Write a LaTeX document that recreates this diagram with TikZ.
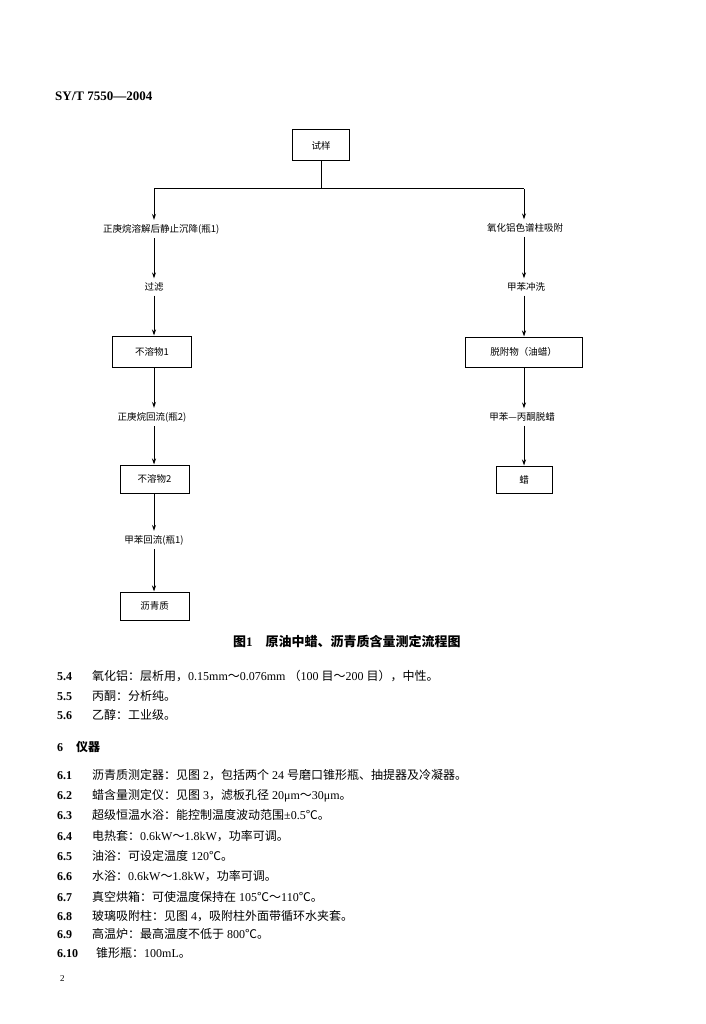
\documentclass[tikz,border=0pt]{standalone}
\usepackage{fontspec}
\setmainfont{Liberation Serif}
\newfontfamily\cjk{Noto Sans CJK SC}
\usetikzlibrary{arrows.meta}
\newcommand\C[1]{{\cjk #1}}
\newcommand\CB[1]{{\cjk\bfseries #1}}
\begin{document}
\begin{tikzpicture}[x=1pt,y=-1pt,
  box/.style={draw, line width=1pt, font=\cjk\fontsize{9.5pt}{11pt}\selectfont, inner sep=0pt},
  lbl/.style={font=\cjk\fontsize{9.5pt}{11pt}\selectfont, inner sep=4pt},
  arr/.style={line width=1pt, -{Stealth[length=6pt,width=4pt]}},
  ln/.style={line width=1pt},
  body/.style={anchor=base west, inner sep=0pt, font=\fontsize{12pt}{14pt}\selectfont},
  num/.style={anchor=base west, inner sep=0pt, font=\fontsize{12pt}{14pt}\selectfont\bfseries}]
\fill[white] (0,0) rectangle (705,1024);
\useasboundingbox (0,0) rectangle (705,1024);

% header
\node[anchor=base west, inner sep=0pt, font=\fontsize{13pt}{15pt}\selectfont\bfseries] (hdr) at (55,101) {SY/T 7550—2004};

% flowchart
\node[box, minimum width=57pt, minimum height=31pt] (s) at (321,145.5) {试样};
\coordinate (L) at (154,189);
\coordinate (R) at (524,189);
\draw[ln] (s.south) -- (s.south |- L);
\draw[ln] (L) -- (R);

% left branch
\node[lbl, anchor=west, inner xsep=0pt] (a1) at (103,229) {正庚烷溶解后静止沉降(瓶1)};
\node[lbl] (a2) at (154,287) {过滤};
\node[box, minimum width=79pt, minimum height=31pt] (a3) at (152,351.5) {不溶物1};
\node[lbl] (a4) at (152,417) {正庚烷回流(瓶2)};
\node[box, minimum width=69pt, minimum height=28pt] (a5) at (154.5,479) {不溶物2};
\node[lbl] (a6) at (154,540) {甲苯回流(瓶1)};
\node[box, minimum width=69pt, minimum height=28pt] (a7) at (154.5,606) {沥青质};

\draw[arr] (L) -- (L |- a1.north);
\draw[arr] (a1.south -| L) -- (a2.north -| L);
\draw[arr] (a2.south -| L) -- (a3.north -| L);
\draw[arr] (a3.south -| L) -- (a4.north -| L);
\draw[arr] (a4.south -| L) -- (a5.north -| L);
\draw[arr] (a5.south -| L) -- (a6.north -| L);
\draw[arr] (a6.south -| L) -- (a7.north -| L);

% right branch
\node[lbl] (b1) at (525,228) {氧化铝色谱柱吸附};
\node[lbl] (b2) at (526,287) {甲苯冲洗};
\node[box, minimum width=117pt, minimum height=30pt] (b3) at (523.5,352) {脱附物（油蜡）};
\node[lbl] (b4) at (522,417) {甲苯—丙酮脱蜡};
\node[box, minimum width=56pt, minimum height=27pt] (b5) at (524,479.5) {蜡};

\draw[arr] (R) -- (R |- b1.north);
\draw[arr] (b1.south -| R) -- (b2.north -| R);
\draw[arr] (b2.south -| R) -- (b3.north -| R);
\draw[arr] (b3.south -| R) -- (b4.north -| R);
\draw[arr] (b4.south -| R) -- (b5.north -| R);

% caption
\node[anchor=west, inner sep=0pt, font=\fontsize{13pt}{15pt}\selectfont] (cap) at (233,642)
  {\CB{图}\textbf{1}\hspace{13pt}\CB{原油中蜡、沥青质含量测定流程图}};

% body text
\node[num] (n54) at (57,680.5) {5.4};
\node[body] (t54) at (92,680.5) {\C{氧化铝：层析用，}0.15mm\C{～}0.076mm \C{（}100 \C{目～}200 \C{目），中性。}};
\node[num] (n55) at (57,700.5) {5.5};
\node[body] (t55) at (92,700.5) {\C{丙酮：分析纯。}};
\node[num] (n56) at (57,719.5) {5.6};
\node[body] (t56) at (92,719.5) {\C{乙醇：工业级。}};

\node[num] (n6) at (57,751.5) {6};
\node[body] (t6) at (76,751.5) {\CB{仪器}};

\node[num] (n61) at (57,779.5) {6.1};
\node[body] (t61) at (92,779.5) {\C{沥青质测定器：见图}~2\C{，包括两个}~24~\C{号磨口锥形瓶、抽提器及冷凝器。}};
\node[num] (n62) at (57,799.5) {6.2};
\node[body] (t62) at (92,799.5) {\C{蜡含量测定仪：见图}~3\C{，滤板孔径}~20μm\C{～}30μm\C{。}};
\node[num] (n63) at (57,819.5) {6.3};
\node[body] (t63) at (92,819.5) {\C{超级恒温水浴：能控制温度波动范围}±0.5\C{℃。}};
\node[num] (n64) at (57,840) {6.4};
\node[body] (t64) at (92,840) {\C{电热套：}0.6kW\C{～}1.8kW\C{，功率可调。}};
\node[num] (n65) at (57,860) {6.5};
\node[body] (t65) at (92,860) {\C{油浴：可设定温度}~120\C{℃。}};
\node[num] (n66) at (57,880.5) {6.6};
\node[body] (t66) at (92,880.5) {\C{水浴：}0.6kW\C{～}1.8kW\C{，功率可调。}};
\node[num] (n67) at (57,901) {6.7};
\node[body] (t67) at (92,901) {\C{真空烘箱：可使温度保持在}~105\C{℃～}110\C{℃。}};
\node[num] (n68) at (57,920) {6.8};
\node[body] (t68) at (92,920) {\C{玻璃吸附柱：见图}~4\C{，吸附柱外面带循环水夹套。}};
\node[num] (n69) at (57,938.5) {6.9};
\node[body] (t69) at (92,938.5) {\C{高温炉：最高温度不低于}~800\C{℃。}};
\node[num] (n610) at (57,957.5) {6.10};
\node[body] (t610) at (96,957.5) {\C{锥形瓶：}100mL\C{。}};

\node[anchor=base west, inner sep=0pt, font=\fontsize{9pt}{10pt}\selectfont] (pg) at (60,981) {2};
\end{tikzpicture}
\end{document}
